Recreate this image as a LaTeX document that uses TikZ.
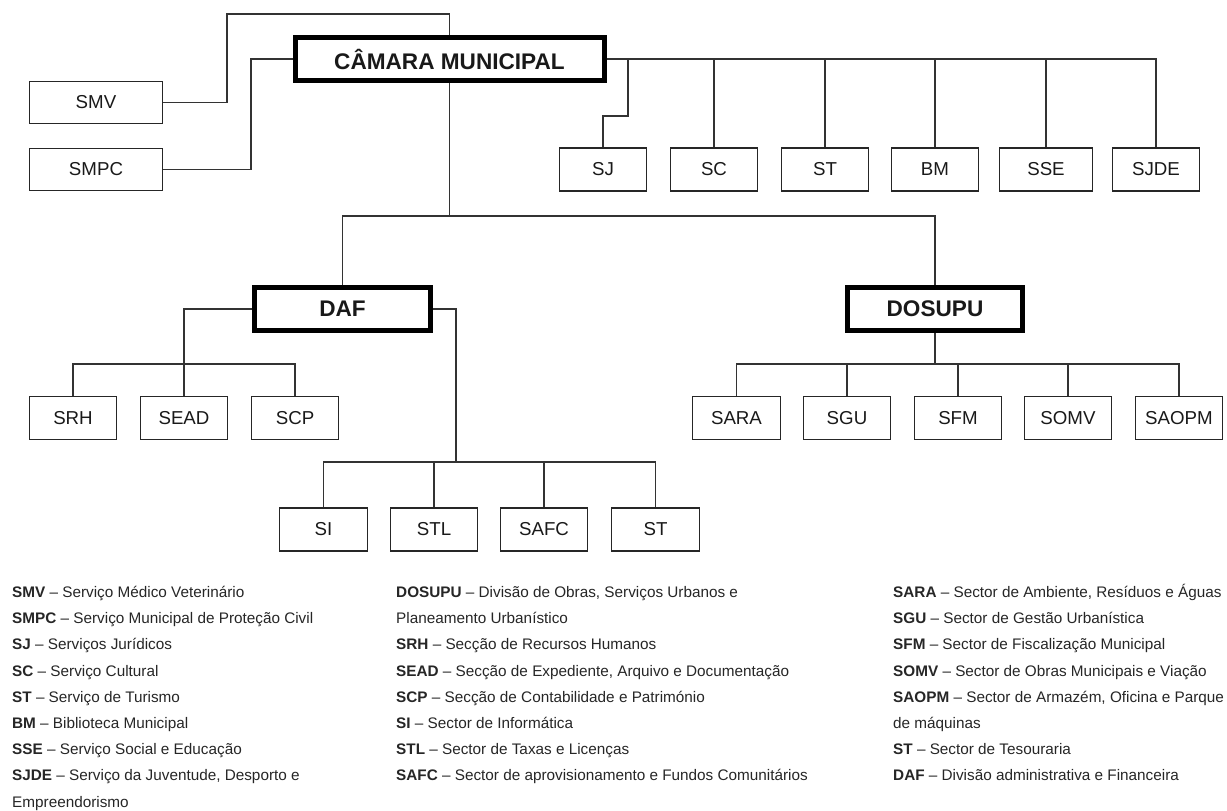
\documentclass[tikz,border=0pt]{standalone}
\usepackage{fontspec}
\setmainfont{Liberation Sans}
\begin{document}
\begin{tikzpicture}[x=1pt,y=-1pt,
  box/.style={draw=black!85, line width=1.4pt, inner sep=0pt, minimum width=87.5pt, minimum height=43pt, font=\fontsize{18.7}{20}\selectfont, text=black!90},
  head/.style={draw=black, line width=5pt, inner sep=0pt, minimum height=43pt, font=\bfseries\fontsize{22.6}{24}\selectfont, text=black!90},
  conn/.style={draw=black!80, line width=1.3pt},
  leg/.style={anchor=base west, inner sep=0pt, font=\fontsize{15.3}{18}\selectfont, text=black!85}]
\useasboundingbox (0,0) rectangle (1227,811);

% head boxes
\node[head, minimum width=309pt] (cm) at (449.5,59) {CÂMARA MUNICIPAL};
\node[head, minimum width=176pt] (daf) at (342.5,309) {DAF};
\node[head, minimum width=175pt] (dosupu) at (935,309) {DOSUPU};

% left side
\node[box, minimum width=132.5pt, minimum height=41.5pt] (smv) at (96,102.5) {SMV};
\node[box, minimum width=132.5pt, minimum height=41.5pt] (smpc) at (96,169.5) {SMPC};

% top row
\node[box] (sj) at (603,169.5) {SJ};
\node[box] (sc) at (714,169.5) {SC};
\node[box] (st) at (825,169.5) {ST};
\node[box] (bm) at (935,169.5) {BM};
\node[box, minimum width=93pt] (sse) at (1046,169.5) {SSE};
\node[box] (sjde) at (1156,169.5) {SJDE};

% DAF row
\node[box] (srh) at (73,418) {SRH};
\node[box] (sead) at (184,418) {SEAD};
\node[box] (scp) at (295,418) {SCP};

% DAF bottom row
\node[box] (si) at (323.5,529.5) {SI};
\node[box] (stl) at (434,529.5) {STL};
\node[box] (safc) at (544,529.5) {SAFC};
\node[box] (stb) at (655.5,529.5) {ST};

% DOSUPU row
\node[box] (sara) at (736.5,418) {SARA};
\node[box] (sgu) at (847,418) {SGU};
\node[box] (sfm) at (958,418) {SFM};
\node[box] (somv) at (1068,418) {SOMV};
\node[box] (saopm) at (1179,418) {SAOPM};

% helper coordinates
\coordinate (t1) at (227,14);
\coordinate (t2) at (251,0 |- cm.west);
\coordinate (j1) at (628,0 |- cm.east);
\coordinate (j2) at (sj.north |- 0,116);
\coordinate (m) at (cm.south |- 0,216);
\coordinate (dl) at (0,364);
\coordinate (dr) at (456,462);

% connectors
\draw[conn] (smv.east) -| (t1) -| (cm.north);
\draw[conn] (smpc.east) -| (t2) -- (cm.west);
\draw[conn] (cm.east) -| (sjde.north);
\draw[conn] (j1) |- (j2) -- (sj.north);
\foreach \n in {sc,st,bm,sse} \draw[conn] (\n.north) -- (\n.north |- cm.east);
\draw[conn] (cm.south) -- (m);
\draw[conn] (daf.north) |- (m) -| (dosupu.north);
% DAF left
\draw[conn] (daf.west) -| (sead.north);
\draw[conn] (srh.north) |- (scp.north |- dl) -- (scp.north);
% DAF right
\draw[conn] (daf.east) -| (dr);
\draw[conn] (si.north) |- (stb.north |- dr) -- (stb.north);
\foreach \n in {stl,safc} \draw[conn] (\n.north) -- (\n.north |- dr);
% DOSUPU
\draw[conn] (dosupu.south) -- (dosupu.south |- dl);
\draw[conn] (sara.north) |- (saopm.north |- dl) -- (saopm.north);
\foreach \n in {sgu,sfm,somv} \draw[conn] (\n.north) -- (\n.north |- dl);

% legend column 1
\node[leg] (a1) at (12,597.5) {\textbf{SMV} – Serviço Médico Veterinário};
\node[leg] (a2) at (12,623.7) {\textbf{SMPC} – Serviço Municipal de Proteção Civil};
\node[leg] (a3) at (12,649.9) {\textbf{SJ} – Serviços Jurídicos};
\node[leg] (a4) at (12,676.1) {\textbf{SC} – Serviço Cultural};
\node[leg] (a5) at (12,702.3) {\textbf{ST} – Serviço de Turismo};
\node[leg] (a6) at (12,728.5) {\textbf{BM} – Biblioteca Municipal};
\node[leg] (a7) at (12,754.7) {\textbf{SSE} – Serviço Social e Educação};
\node[leg] (a8) at (12,780.9) {\textbf{SJDE} – Serviço da Juventude, Desporto e};
\node[leg] (a9) at (12,807.1) {Empreendorismo};

% legend column 2
\node[leg] (b1) at (396,597.5) {\textbf{DOSUPU} – Divisão de Obras, Serviços Urbanos e};
\node[leg] (b2) at (396,623.7) {Planeamento Urbanístico};
\node[leg] (b3) at (396,649.9) {\textbf{SRH} – Secção de Recursos Humanos};
\node[leg] (b4) at (396,676.1) {\textbf{SEAD} – Secção de Expediente, Arquivo e Documentação};
\node[leg] (b5) at (396,702.3) {\textbf{SCP} – Secção de Contabilidade e Património};
\node[leg] (b6) at (396,728.5) {\textbf{SI} – Sector de Informática};
\node[leg] (b7) at (396,754.7) {\textbf{STL} – Sector de Taxas e Licenças};
\node[leg] (b8) at (396,780.9) {\textbf{SAFC} – Sector de aprovisionamento e Fundos Comunitários};

% legend column 3
\node[leg] (c1) at (893,597.5) {\textbf{SARA} – Sector de Ambiente, Resíduos e Águas};
\node[leg] (c2) at (893,623.7) {\textbf{SGU} – Sector de Gestão Urbanística};
\node[leg] (c3) at (893,649.9) {\textbf{SFM} – Sector de Fiscalização Municipal};
\node[leg] (c4) at (893,676.1) {\textbf{SOMV} – Sector de Obras Municipais e Viação};
\node[leg] (c5) at (893,702.3) {\textbf{SAOPM} – Sector de Armazém, Oficina e Parque};
\node[leg] (c6) at (893,728.5) {de máquinas};
\node[leg] (c7) at (893,754.7) {\textbf{ST} – Sector de Tesouraria};
\node[leg] (c8) at (893,780.9) {\textbf{DAF} – Divisão administrativa e Financeira};
\end{tikzpicture}
\end{document}
